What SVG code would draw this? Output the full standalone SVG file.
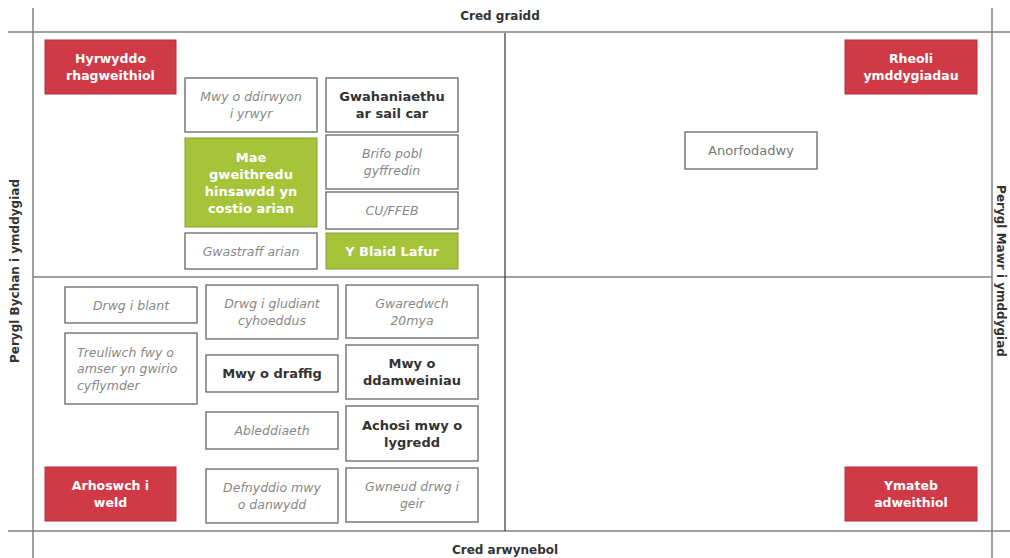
<svg xmlns="http://www.w3.org/2000/svg" width="1010" height="558" viewBox="0 0 1010 558">
<style>
text{font-family:"DejaVu Sans","Liberation Sans",sans-serif;text-anchor:middle}
.axis{font-weight:bold;font-size:12px;fill:#333}
.red rect{fill:#d03a47;stroke:#b8303c;stroke-width:1}
.red text{fill:#fff;font-weight:bold;font-size:12.5px}
.grn rect{fill:#a6c33a;stroke:#8a9e3a;stroke-width:1}
.grn text{fill:#fff;font-weight:bold;font-size:13px}
.box rect{fill:#fff;stroke:#666;stroke-width:1.3}
.it text{fill:#888;font-style:italic;font-size:12.5px}
.bd text{fill:#333;font-weight:bold;font-size:13px}
.rg text{fill:#777;font-size:13px}
.ol{stroke:#808080;stroke-width:1.5;fill:none}
.il{stroke:#333;stroke-width:1.2;fill:none}
</style>
<rect width="1010" height="558" fill="#fff"/>
<g id="axes">
<line class="ol" x1="8" y1="32" x2="1010" y2="32"/>
<line class="ol" x1="8" y1="531" x2="1010" y2="531"/>
<line class="ol" x1="33" y1="8" x2="33" y2="558"/>
<line class="ol" x1="992" y1="8" x2="992" y2="558"/>
<line class="ol" x1="33" y1="277" x2="992" y2="277"/>
<line class="il" x1="505" y1="33" x2="505" y2="531"/>
<text class="axis" x="500" y="20">Cred graidd</text>
<text class="axis" x="505" y="554">Cred arwynebol</text>
<text class="axis" transform="translate(19,271) rotate(-90)">Perygl Bychan i ymddygiad</text>
<text class="axis" transform="translate(997,271) rotate(90)">Perygl Mawr i ymddygiad</text>
</g>
<g id="connectors"></g>
<g id="n-hyrwyddo" class="red"><rect x="45" y="40" width="131" height="54"/><text x="110.5" y="63">Hyrwyddo</text><text x="110.5" y="80">rhagweithiol</text></g>
<g id="n-rheoli" class="red"><rect x="845" y="40" width="132" height="54"/><text x="911" y="63">Rheoli</text><text x="911" y="80">ymddygiadau</text></g>
<g id="n-arhoswch" class="red"><rect x="45" y="467" width="131" height="54"/><text x="110.5" y="490">Arhoswch i</text><text x="110.5" y="507">weld</text></g>
<g id="n-ymateb" class="red"><rect x="845" y="467" width="132" height="54"/><text x="911" y="490">Ymateb</text><text x="911" y="507">adweithiol</text></g>
<g id="n-dirwyon" class="box it"><rect x="185" y="78" width="132" height="54"/><text x="251" y="101">Mwy o ddirwyon</text><text x="251" y="118">i yrwyr</text></g>
<g id="n-gwahaniaethu" class="box bd"><rect x="326" y="78" width="132" height="54"/><text x="392" y="101">Gwahaniaethu</text><text x="392" y="118">ar sail car</text></g>
<g id="n-hinsawdd" class="grn"><rect x="185" y="138" width="132" height="89"/><text x="251" y="161.7">Mae</text><text x="251" y="178.7">gweithredu</text><text x="251" y="195.7">hinsawdd yn</text><text x="251" y="212.7">costio arian</text></g>
<g id="n-brifo" class="box it"><rect x="326" y="135" width="132" height="54"/><text x="392" y="158">Brifo pobl</text><text x="392" y="175">gyffredin</text></g>
<g id="n-cu" class="box it"><rect x="326" y="192" width="132" height="37"/><text x="392" y="215">CU/FFEB</text></g>
<g id="n-gwastraff" class="box it"><rect x="185" y="233" width="132" height="36"/><text x="251" y="255.5">Gwastraff arian</text></g>
<g id="n-llafur" class="grn"><rect x="326" y="233" width="132" height="36"/><text x="392" y="255.5">Y Blaid Lafur</text></g>
<g id="n-anorfodadwy" class="box rg"><rect x="685" y="132" width="132" height="37"/><text x="751" y="155">Anorfodadwy</text></g>
<g id="n-blant" class="box it"><rect x="65" y="287" width="132" height="36"/><text x="131" y="309.5">Drwg i blant</text></g>
<g id="n-gludiant" class="box it"><rect x="206" y="285" width="132" height="54"/><text x="272" y="308">Drwg i gludiant</text><text x="272" y="325">cyhoeddus</text></g>
<g id="n-gwaredwch" class="box it"><rect x="346" y="285" width="132" height="53"/><text x="412" y="307.5">Gwaredwch</text><text x="412" y="324.5">20mya</text></g>
<g id="n-treuliwch" class="box it"><rect x="65" y="333" width="132" height="71"/><text x="77" y="356.5" style="text-anchor:start">Treuliwch fwy o</text><text x="77" y="373" style="text-anchor:start">amser yn gwirio</text><text x="77" y="389.5" style="text-anchor:start">cyflymder</text></g>
<g id="n-draffig" class="box bd"><rect x="206" y="355" width="132" height="37"/><text x="272" y="378">Mwy o draffig</text></g>
<g id="n-damweiniau" class="box bd"><rect x="346" y="345" width="132" height="54"/><text x="412" y="368">Mwy o</text><text x="412" y="385">ddamweiniau</text></g>
<g id="n-ableddiaeth" class="box it"><rect x="206" y="412" width="132" height="37"/><text x="272" y="435">Ableddiaeth</text></g>
<g id="n-lygredd" class="box bd"><rect x="346" y="406" width="132" height="55"/><text x="412" y="429.5">Achosi mwy o</text><text x="412" y="446.5">lygredd</text></g>
<g id="n-tanwydd" class="box it"><rect x="206" y="469" width="132" height="54"/><text x="272" y="492">Defnyddio mwy</text><text x="272" y="509">o danwydd</text></g>
<g id="n-geir" class="box it"><rect x="346" y="468" width="132" height="54"/><text x="412" y="491">Gwneud drwg i</text><text x="412" y="508">geir</text></g>
</svg>
